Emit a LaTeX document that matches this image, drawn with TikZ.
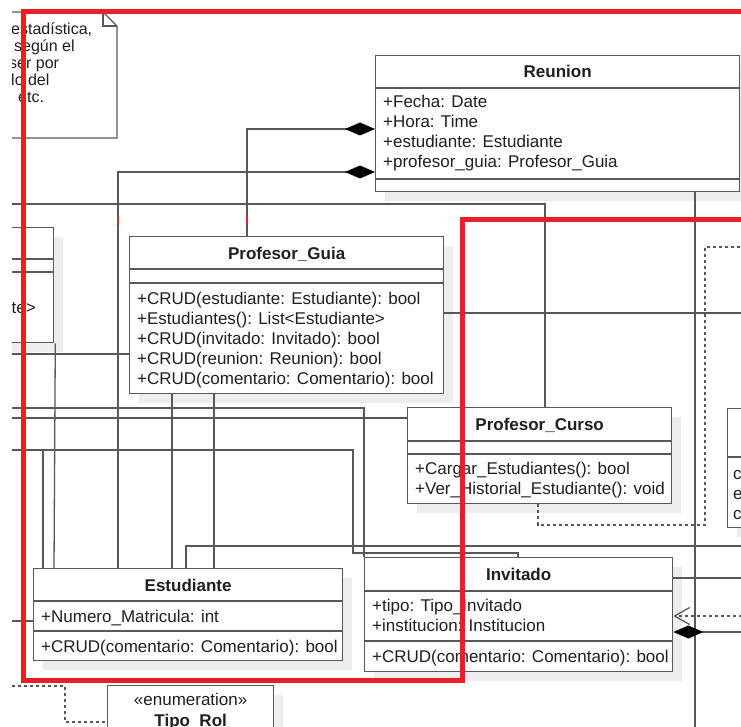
\documentclass[tikz,border=0pt]{standalone}
\usepackage{fontspec}
\setmainfont{Liberation Sans}
\usepackage{tikz}
\usetikzlibrary{shapes,arrows,arrows.meta,positioning,calc,shadows}
\definecolor{markred}{RGB}{234,30,38}
\definecolor{umlgray}{RGB}{88,88,88}
\tikzstyle{umlclass} = [draw=umlgray, line width=1.3pt, fill=white, rectangle, anchor=north west, inner sep=0pt,
    drop shadow={shadow xshift=9pt, shadow yshift=-9pt, fill=black!7, opacity=1}]
\tikzstyle{classname} = [font=\fontsize{17}{20}\selectfont\bfseries, text=black!88, anchor=base, inner sep=0pt]
\tikzstyle{member} = [font=\fontsize{17}{20}\selectfont, text=black!88, anchor=base west, inner sep=0pt]
\tikzstyle{notetext} = [font=\fontsize{16}{17}\selectfont, text=black!88, anchor=base west, inner sep=0pt]
\tikzstyle{sep} = [draw=umlgray, line width=1.3pt]
\tikzstyle{line} = [draw=umlgray, line width=1.3pt]
\tikzstyle{comp} = [line, -{Diamond[length=30pt,width=13pt,color=black]}]
\tikzstyle{dep} = [line, dash pattern=on 3pt off 3pt]
\tikzstyle{deparrow} = [dep, -{Straight Barb[length=15pt,width=17pt]}]
\tikzstyle{highlight} = [draw=markred, line width=5pt]

\begin{document}
\begin{tikzpicture}[x=1pt,y=-1pt]
\useasboundingbox (0,0) rectangle (741,727);
\clip (12,0) rectangle (741,727);

\draw[line, fill=white] (-20,12) -- (103,12) -- (117,26) -- (117,138) -- (-20,138);
\draw[line] (103,12) -- (103,26) -- (117,26);
\node[notetext] (note1) at (11,35) {estadística,};
\node[notetext] (note2) at (14,52) {según el};
\node[notetext] (note3) at (9,69) {ser por};
\node[notetext] (note4) at (11,86) {lo del};
\node[notetext] (note5) at (18,103) {etc.};

\node[umlclass, minimum width=364pt, minimum height=136pt] (reunion) at (375,55) {};
\node[classname] (reunion-t) at ($(reunion.north)+(0,23)$) {Reunion};
\draw[sep] ($(reunion.north west)+(0,33)$) -- ($(reunion.north east)+(0,33)$);
\draw[sep] ($(reunion.north west)+(0,124)$) -- ($(reunion.north east)+(0,124)$);
\foreach \t [count=\i from 0] in {+Fecha: Date, +Hora: Time, +estudiante: Estudiante, +profesor\_guia: Profesor\_Guia}
  \node[member] (reunion-a\i) at ($(reunion.north west)+(8,{53+20*\i})$) {\t};

\node[umlclass, minimum width=113pt, minimum height=115pt] (leftcls) at (-60,227) {};
\draw[sep] ($(leftcls.north west)+(0,32)$) -- ($(leftcls.north east)+(0,32)$);
\draw[sep] ($(leftcls.north west)+(0,45)$) -- ($(leftcls.north east)+(0,45)$);
\node[member, anchor=base east] (leftcls-m) at (36,313) {te>};

\node[umlclass, minimum width=314pt, minimum height=157pt] (guia) at (129,236) {};
\node[classname] (guia-t) at ($(guia.north)+(0,23)$) {Profesor\_Guia};
\draw[sep] ($(guia.north west)+(0,33)$) -- ($(guia.north east)+(0,33)$);
\draw[sep] ($(guia.north west)+(0,47)$) -- ($(guia.north east)+(0,47)$);
\foreach \t [count=\i from 0] in {+CRUD(estudiante: Estudiante): bool, +Estudiantes(): List<Estudiante>,
    +CRUD(invitado: Invitado): bool, +CRUD(reunion: Reunion): bool, +CRUD(comentario: Comentario): bool}
  \node[member] (guia-m\i) at ($(guia.north west)+(8,{68+20*\i})$) {\t};

\node[umlclass, minimum width=264pt, minimum height=96pt] (curso) at (407,407) {};
\node[classname] (curso-t) at ($(curso.north)+(0,23)$) {Profesor\_Curso};
\draw[sep] ($(curso.north west)+(0,34)$) -- ($(curso.north east)+(0,34)$);
\draw[sep] ($(curso.north west)+(0,47)$) -- ($(curso.north east)+(0,47)$);
\foreach \t [count=\i from 0] in {+Cargar\_Estudiantes(): bool, +Ver\_Historial\_Estudiante(): void}
  \node[member] (curso-m\i) at ($(curso.north west)+(8,{67+20*\i})$) {\t};

\node[umlclass, minimum width=80pt, minimum height=119pt] (rightcls) at (727,408) {};
\draw[sep] ($(rightcls.north west)+(0,49)$) -- ($(rightcls.north east)+(0,49)$);
\foreach \t [count=\i from 0] in {c, e, c}
  \node[member] (rightcls-m\i) at ($(rightcls.north west)+(6,{71+20*\i})$) {\t};

\node[umlclass, minimum width=309pt, minimum height=92pt] (estudiante) at (33,568) {};
\node[classname] (estudiante-t) at ($(estudiante.north)+(0,23)$) {Estudiante};
\draw[sep] ($(estudiante.north west)+(0,33)$) -- ($(estudiante.north east)+(0,33)$);
\draw[sep] ($(estudiante.north west)+(0,63)$) -- ($(estudiante.north east)+(0,63)$);
\node[member] (estudiante-a0) at ($(estudiante.north west)+(8,54)$) {+Numero\_Matricula: int};
\node[member] (estudiante-m0) at ($(estudiante.north west)+(8,84)$) {+CRUD(comentario: Comentario): bool};

\node[umlclass, minimum width=308pt, minimum height=114pt] (invitado) at (364,557) {};
\node[classname] (invitado-t) at ($(invitado.north)+(0,23)$) {Invitado};
\draw[sep] ($(invitado.north west)+(0,34)$) -- ($(invitado.north east)+(0,34)$);
\draw[sep] ($(invitado.north west)+(0,84)$) -- ($(invitado.north east)+(0,84)$);
\foreach \t [count=\i from 0] in {+tipo: Tipo\_Invitado, +institucion: Institucion}
  \node[member] (invitado-a\i) at ($(invitado.north west)+(8,{54+20*\i})$) {\t};
\node[member] (invitado-m0) at ($(invitado.north west)+(8,105)$) {+CRUD(comentario: Comentario): bool};

\node[umlclass, minimum width=166pt, minimum height=60pt] (tiporol) at (107,685) {};
\node[classname, font=\fontsize{17}{20}\selectfont] (tiporol-s) at ($(tiporol.north)+(0,20)$) {«enumeration»};
\node[classname] (tiporol-t) at ($(tiporol.north)+(0,41)$) {Tipo\_Rol};

\coordinate (westA) at (0,204);
\coordinate (westB) at (0,354);
\coordinate (westC) at (0,408);
\coordinate (westD) at (0,418);
\coordinate (westE) at (0,450);
\coordinate (westF) at (0,621);
\coordinate (westG) at (0,686);
\coordinate (bendA) at (353,553);
\coordinate (bendB) at (65,722);
\coordinate (dotA) at (705,525);
\coordinate (southA) at (695,740);
\coordinate (eastA) at (760,313);
\coordinate (eastB) at (760,247);
\coordinate (eastC) at (760,546);
\coordinate (eastD) at (760,578);
\coordinate (eastE) at (760,616);
\coordinate (eastF) at (760,632);

\draw[comp] ($(guia.north west)+(118,0)$) |- ($(reunion.north west)+(0,74)$);
\draw[comp] ($(estudiante.north west)+(85,0)$) |- ($(reunion.north west)+(0,117)$);
\draw[line] (westA) -| ($(curso.north west)+(138,0)$);
\draw[line] ($(reunion.south west)+(320,0)$) -- (southA);
\draw[line] ($(guia.north east)+(0,77)$) -- (eastA);
\draw[dep] ($(curso.south west)+(131,0)$) |- (dotA) |- (eastB);
\draw[line] ($(guia.south west)+(43,0)$) -- ($(estudiante.north west)+(139,0)$);
\draw[line] ($(guia.south west)+(85,0)$) -- ($(estudiante.north west)+(181,0)$);
\draw[line] (westB) -- ($(guia.north west)+(0,118)$);
\draw[line] (westC) -| (invitado.north west);
\draw[line] (westD) -- ($(curso.north west)+(0,11)$);
\draw[line] (westE) -| (bendA) -| ($(invitado.north west)+(154,0)$);
\draw[line] (westE) -| ($(estudiante.north west)+(10,0)$);
\draw[line] ($(leftcls.south east)+(1,0)$) -- ($(estudiante.north west)+(21,0)$);
\draw[line] ($(estudiante.north west)+(153,0)$) |- (eastC);
\draw[line] (westF) -- ($(estudiante.north west)+(0,53)$);
\draw[line] ($(invitado.north east)+(0,21)$) -- (eastD);
\draw[deparrow] (eastE) -- ($(invitado.north east)+(0,59)$);
\draw[comp] (eastF) -- ($(invitado.north east)+(0,75)$);
\draw[dep] (westG) -| (bendB) -- ($(tiporol.north west)+(0,37)$);

\draw[highlight] (760,12) -- (23,12) -- (23,680) -- (462,680) -- (462,220) -- (760,220);
\draw[markred, line width=2pt] (118,216) -- (118,225) (247,216) -- (247,225);
\end{tikzpicture}
\end{document}
